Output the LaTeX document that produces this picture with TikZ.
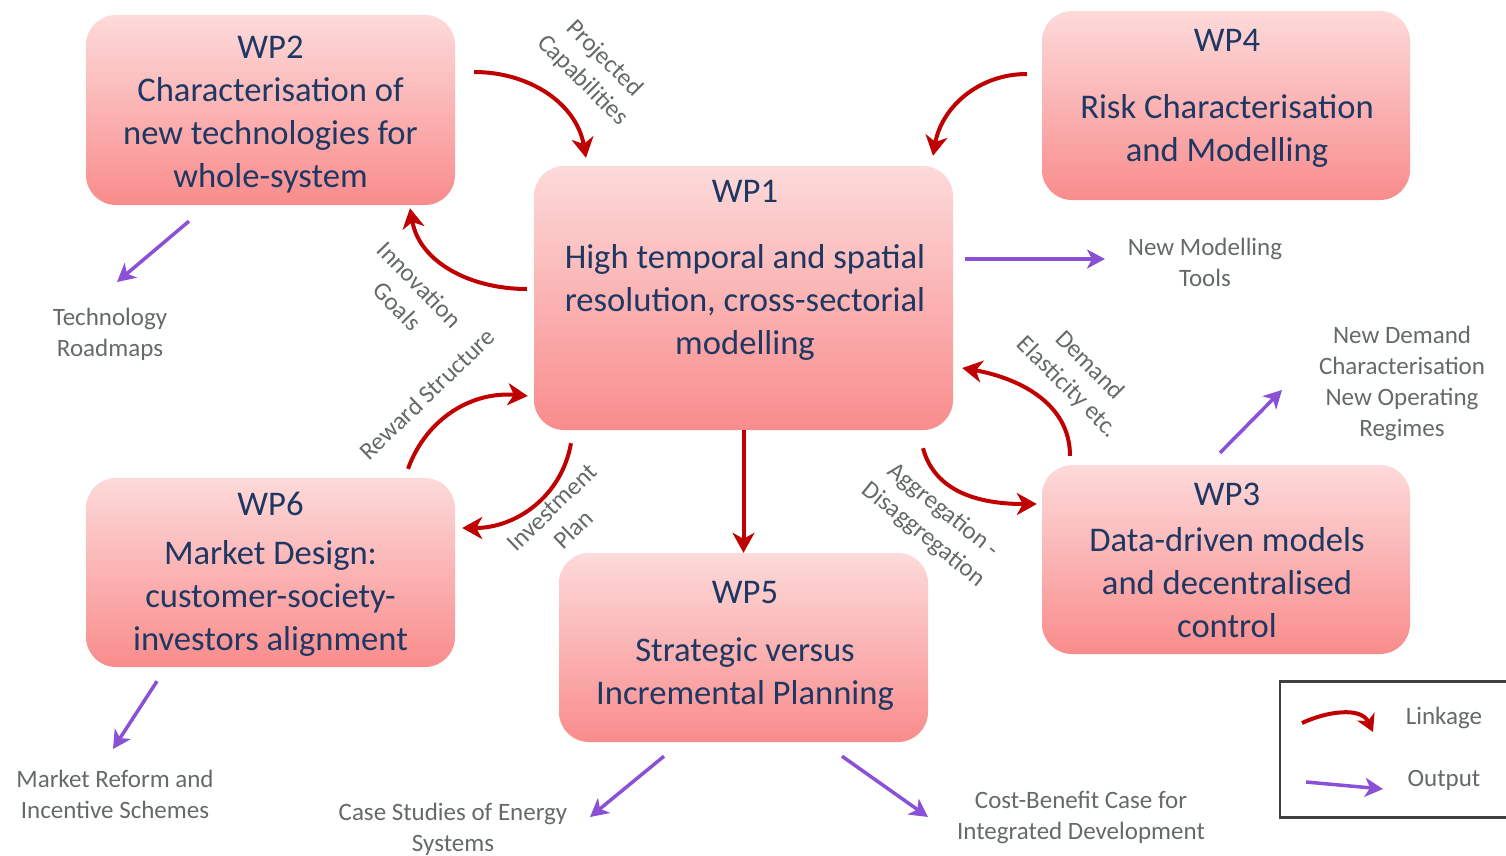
\documentclass[tikz,border=0pt]{standalone}
\usepackage{fontspec}
\setmainfont{Carlito}
\usetikzlibrary{arrows.meta}

\definecolor{navy}{HTML}{1F3763}
\definecolor{labelgray}{HTML}{646A6A}
\definecolor{linkred}{HTML}{C00000}
\definecolor{outpurple}{HTML}{8A50D6}
\definecolor{boxtop}{HTML}{FDDADA}
\definecolor{boxbot}{HTML}{F98C8C}
\definecolor{legendframe}{HTML}{404040}

% centred stack of lines whose first baseline is the node's baseline
\newcommand{\linestack}[1]{\begin{tabular}[t]{@{}c@{}}#1\end{tabular}}

\begin{document}
\begin{tikzpicture}[x=1pt,y=-1pt,
  wpbox/.style={rounded corners=30pt, top color=boxtop, bottom color=boxbot,
                draw=none, inner sep=0pt},
  wptext/.style={anchor=base, inner sep=0pt, text=navy,
                 font=\fontsize{34.6}{43}\selectfont},
  outtext/.style={anchor=base, inner sep=0pt, text=labelgray,
                  font=\fontsize{25}{31}\selectfont},
  linktext/.style={inner sep=0pt, text=labelgray,
                   font=\fontsize{25}{31}\selectfont},
  link/.style={draw=linkred, line width=4pt,
               -{Stealth[length=20pt,width=22pt,inset=6pt]}},
  output/.style={draw=outpurple, line width=3.5pt,
                 -{Stealth[length=18pt,width=19pt,inset=5pt]}},
]
\useasboundingbox (0,0) rectangle (1506,855);
\clip (0,0) rectangle (1506,855);

% work package boxes
\node[wpbox, minimum width=369pt, minimum height=190pt] (wp2) at (270.5,110) {};
\node[wpbox, minimum width=419pt, minimum height=264pt] (wp1) at (743.5,298) {};
\node[wpbox, minimum width=368pt, minimum height=189pt] (wp4) at (1226,105.5) {};
\node[wpbox, minimum width=369pt, minimum height=189pt] (wp6) at (270.5,572.5) {};
\node[wpbox, minimum width=369pt, minimum height=189pt] (wp5) at (743.5,647.5) {};
\node[wpbox, minimum width=368pt, minimum height=189pt] (wp3) at (1226,559.5) {};

% box titles
\node[wptext] (wp2t) at (270.5,58) {\linestack{WP2\\Characterisation of\\new technologies for\\whole-system}};
\node[wptext] (wp1t) at (745,202) {\linestack{WP1\\[23pt]High temporal and spatial\\resolution, cross-sectorial\\modelling}};
\node[wptext] (wp4t) at (1227,51) {\linestack{WP4\\[24pt]Risk Characterisation\\and Modelling}};
\node[wptext] (wp6t) at (270.5,515) {\linestack{WP6\\[6pt]Market Design:\\customer-society-\\investors alignment}};
\node[wptext] (wp5t) at (745,603) {\linestack{WP5\\[15pt]Strategic versus\\Incremental Planning}};
\node[wptext] (wp3t) at (1227,505) {\linestack{WP3\\[3pt]Data-driven models\\and decentralised\\control}};

% linkages between work packages
\draw[link] ([shift={(19,-38)}]wp2.east) to[out=0,in=100] ([shift={(-157.5,-8)}]wp1.north);
\draw[link] ([shift={(-15,-31.5)}]wp4.west) to[out=180,in=80] ([shift={(189.5,-10)}]wp1.north);
\draw[link] ([shift={(-7,-9)}]wp1.west) to[out=180,in=-80] ([shift={(139.5,3)}]wp2.south);
\draw[link] ([shift={(137.5,-9)}]wp6.north) to[out=70,in=175] ([shift={(-6,98)}]wp1.west);
\draw[link] ([shift={(-172.5,13)}]wp1.south) to[out=-100,in=0] ([shift={(7,-44.5)}]wp6.east);
\draw[link] (wp1.south) -- (wp5.north);
\draw[link] ([shift={(179.5,18)}]wp1.south) to[out=-75,in=180] ([shift={(-5,-55.5)}]wp3.west);
\draw[link] ([shift={(-156,-9)}]wp3.north) to[out=90,in=-10] ([shift={(9,70)}]wp1.east);

% linkage labels
\node[linktext, rotate=-45] (lproj) at (593,70) {\linestack{Projected\\Capabilities}};
\node[linktext, rotate=-46] (linnov) at (407,297) {\linestack{Innovation\\Goals}};
\node[linktext, rotate=44] (lreward) at (427,394) {Reward Structure};
\node[linktext, rotate=44] (linvest) at (564,520) {\linestack{Investment\\Plan}};
\node[linktext, rotate=-45] (ldemand) at (1078,377) {\linestack{Demand\\Elasticity etc.}};
\node[linktext, rotate=-39] (laggr) at (933,523) {\linestack{Aggregation -\\Disaggregation}};

% outputs
\node[outtext] (otech) at (110,325) {\linestack{Technology\\Roadmaps}};
\node[outtext] (otools) at (1205,255) {\linestack{New Modelling\\Tools}};
\node[outtext] (odemand) at (1402,343) {\linestack{New Demand\\Characterisation\\New Operating\\Regimes}};
\node[outtext] (omarket) at (115,787) {\linestack{Market Reform and\\Incentive Schemes}};
\node[outtext] (ocase) at (453,820) {\linestack{Case Studies of Energy\\Systems}};
\node[outtext] (ocost) at (1081,808) {\linestack{Cost-Benefit Case for\\Integrated Development}};

\coordinate (tech) at (117,282);
\coordinate (tools) at (1105,259);
\coordinate (demand) at (1282,390);
\coordinate (market) at (113,749);
\coordinate (case) at (590,817);
\coordinate (cost) at (928,817);

\draw[output] ([shift={(-81.5,16)}]wp2.south) -- (tech);
\draw[output] ([shift={(12,-39)}]wp1.east) -- (tools);
\draw[output] ([shift={(-6,-12)}]wp3.north) -- (demand);
\draw[output] ([shift={(-113.5,14)}]wp6.south) -- (market);
\draw[output] ([shift={(-79.5,14)}]wp5.south) -- (case);
\draw[output] ([shift={(98.5,14)}]wp5.south) -- (cost);

% legend
\node[draw=legendframe, line width=2.5pt, fill=white, minimum width=240pt,
      minimum height=136pt, inner sep=0pt] (legend) at (1400,749.5) {};
\coordinate (lka) at (1302,723);
\coordinate (lkb) at (1373,732);
\coordinate (opa) at (1306,782);
\coordinate (opb) at (1383,789);
\draw[link, -{Stealth[length=17pt,width=19pt,inset=5pt]}] (lka) to[out=25,in=115] (lkb);
\draw[output] (opa) -- (opb);
\node[outtext] (llink) at (1444,724) {Linkage};
\node[outtext] (lout) at (1444,786) {Output};
\end{tikzpicture}
\end{document}
